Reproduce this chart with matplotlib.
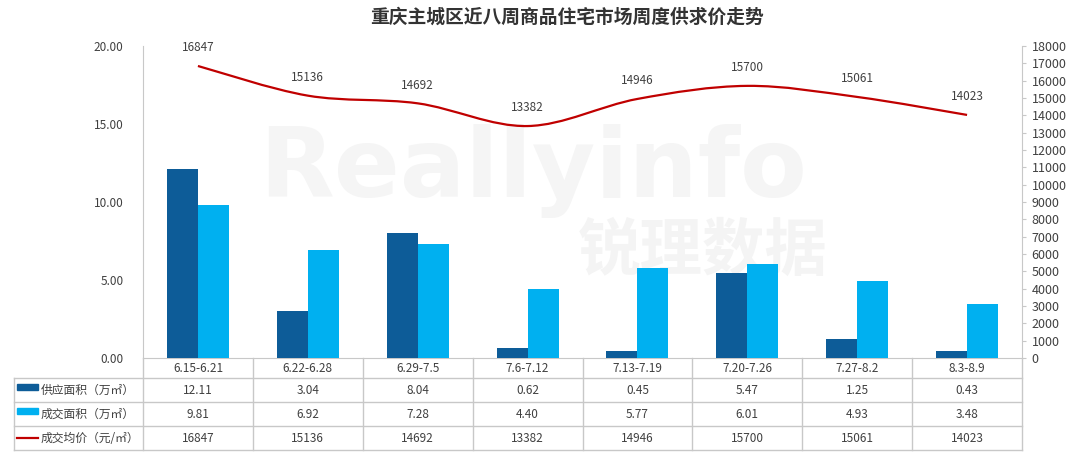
import numpy as np
import matplotlib.pyplot as plt
from matplotlib.path import Path
from matplotlib.patches import PathPatch, Rectangle

plt.rcParams['font.family'] = ['Noto Sans CJK SC', 'DejaVu Sans']

# 数据
weeks = ['6.15-6.21', '6.22-6.28', '6.29-7.5', '7.6-7.12',
         '7.13-7.19', '7.20-7.26', '7.27-8.2', '8.3-8.9']
supply = [12.11, 3.04, 8.04, 0.62, 0.45, 5.47, 1.25, 0.43]
deal = [9.81, 6.92, 7.28, 4.40, 5.77, 6.01, 4.93, 3.48]
price = [16847, 15136, 14692, 13382, 14946, 15700, 15061, 14023]
row_names = ['供应面积（万㎡）', '成交面积（万㎡）', '成交均价（元/㎡）']

c_dark = '#0d5c98'
c_light = '#00b0f0'
c_red = '#c00000'
c_text = '#404040'
c_grid = '#c8c8c8'

W, H = 1080, 469
fig = plt.figure(figsize=(W / 100, H / 100), dpi=100)

# 像素坐标的覆盖层（表格、水印）
ov = fig.add_axes([0, 0, 1, 1], zorder=0)
ov.set_xlim(0, W)
ov.set_ylim(H, 0)
ov.axis('off')

# 水印
ov.text(533, 171, 'Reallyinfo', fontsize=70, fontweight='bold', color='#f5f5f5',
        ha='center', va='center', family='DejaVu Sans')
ov.text(703, 251, '锐理数据', fontsize=45, fontweight='bold', color='#f4f4f4',
        ha='center', va='center')

x0, x1 = 143, 1022
y_axis, y_bot = 358, 46
ax = fig.add_axes([x0 / W, 1 - y_axis / H, (x1 - x0) / W, (y_axis - y_bot) / H], zorder=2)
ax.patch.set_alpha(0)

x = np.arange(len(weeks))
bw = 0.282
ax.bar(x - bw / 2, supply, bw, color=c_dark, zorder=3)
ax.bar(x + bw / 2, deal, bw, color=c_light, zorder=3)
ax.set_xlim(-0.5, len(weeks) - 0.5)
ax.set_ylim(0, 20)
ax.set_yticks([0, 5, 10, 15, 20])
ax.set_yticklabels([f'{v:.2f}' for v in [0, 5, 10, 15, 20]])
ax.tick_params(axis='y', length=0, pad=14, labelsize=8.5, labelcolor=c_text)
ax.set_xticks(x)
ax.set_xticklabels(weeks)
ax.tick_params(axis='x', length=0, pad=3, labelsize=8.5, labelcolor=c_text)
for s in ['top', 'right']:
    ax.spines[s].set_visible(False)
ax.spines['left'].set_color(c_grid)
ax.spines['bottom'].set_color(c_grid)

# 右轴：均价平滑曲线
ax2 = ax.twinx()
ax2.set_ylim(0, 18000)
ax2.set_yticks(np.arange(0, 18001, 1000))
ax2.tick_params(axis='y', length=3, color=c_grid, pad=4, labelsize=9, labelcolor=c_text)
for s in ['top', 'left', 'bottom']:
    ax2.spines[s].set_visible(False)
ax2.spines['right'].set_color(c_grid)

pts = np.column_stack([x, price]).astype(float)
verts = [pts[0]]
codes = [Path.MOVETO]
n = len(pts)
for i in range(n - 1):
    p_prev = pts[max(i - 1, 0)]
    p_next2 = pts[min(i + 2, n - 1)]
    c1 = pts[i] + (pts[i + 1] - p_prev) / 6
    c2 = pts[i + 1] - (p_next2 - pts[i]) / 6
    verts += [c1, c2, pts[i + 1]]
    codes += [Path.CURVE4] * 3
ax2.add_patch(PathPatch(Path(verts, codes), fill=False, edgecolor=c_red, lw=1.6, zorder=4))
for xi, p in zip(x, price):
    ax2.annotate(str(p), (xi, p), xytext=(0, 13), textcoords='offset points',
                 ha='center', va='center', fontsize=8.5, color=c_text)

# 标题
fig.text(567 / W, 1 - 17 / H, '重庆主城区近八周商品住宅市场周度供求价走势',
         ha='center', va='center', fontsize=13.5, fontweight='bold', color='#333333')

# 数据表
cw = (x1 - x0) / len(weeks)
rows_y = [378, 402, 426, 450]
for yy in rows_y:
    ov.plot([14, x1], [yy, yy], color=c_grid, lw=1)
ov.plot([14, 14], [rows_y[0], rows_y[-1]], color=c_grid, lw=1)
for k in range(len(weeks) + 1):
    ov.plot([x0 + k * cw] * 2, [y_axis, rows_y[-1]], color=c_grid, lw=1)

table_vals = [[f'{v:.2f}' for v in supply], [f'{v:.2f}' for v in deal], [str(v) for v in price]]
for r in range(3):
    yc = (rows_y[r] + rows_y[r + 1]) / 2
    for k, val in enumerate(table_vals[r]):
        ov.text(x0 + (k + 0.5) * cw, yc, val, ha='center', va='center',
                fontsize=8.5, color=c_text)
    ov.text(41, yc, row_names[r], ha='left', va='center', fontsize=8.5, color=c_text)

ov.add_patch(Rectangle((17, 384), 21, 6, color=c_dark))
ov.add_patch(Rectangle((17, 408), 21, 6, color=c_light))
ov.plot([17, 38], [438, 438], color=c_red, lw=1.6)

fig.savefig('out.png', dpi=100)
